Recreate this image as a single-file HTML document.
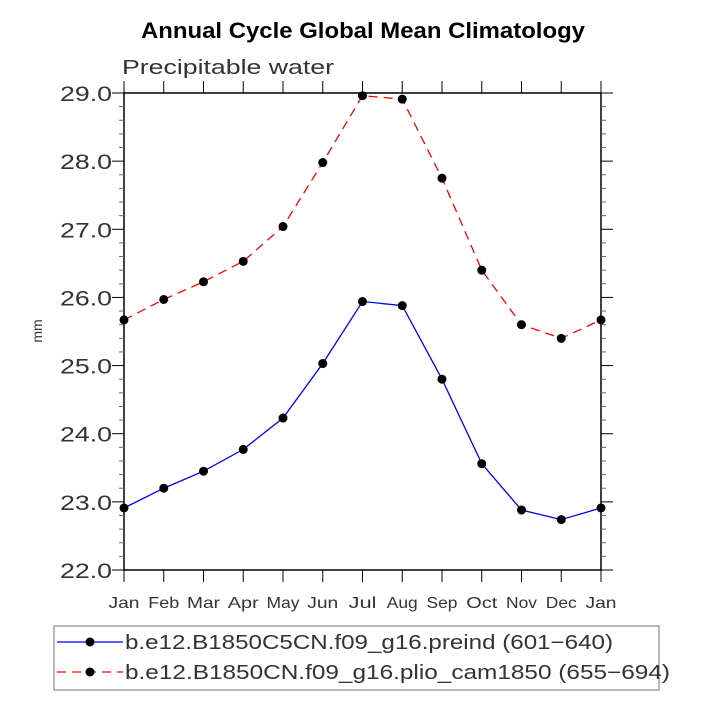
<!DOCTYPE html>
<html><head><meta charset="utf-8"><style>body{margin:0;background:#fff}svg{display:block}</style></head>
<body>
<svg width="708" height="708" viewBox="0 0 708 708" font-family="Liberation Sans, sans-serif">
<text x="363" y="38" text-anchor="middle" font-weight="bold" font-size="22" textLength="444" lengthAdjust="spacingAndGlyphs">Annual Cycle Global Mean Climatology</text>
<text x="122" y="74" font-size="20" fill="#333" textLength="212" lengthAdjust="spacingAndGlyphs">Precipitable water</text>
<text x="42" y="331" font-size="14" fill="#333" text-anchor="middle" transform="rotate(-90 42 331)">mm</text>
<g id="axes"></g>
<g id="series"></g>
<rect x="54" y="626" width="605" height="64" fill="none" stroke="#888" stroke-width="1.2"/>
<g>
<line x1="57" y1="642" x2="123" y2="642" stroke="#00f" stroke-width="1.3"/>
<circle cx="90" cy="642" r="4.5" fill="#000"/>
<text x="125" y="649" font-size="20" fill="#333" textLength="488" lengthAdjust="spacingAndGlyphs">b.e12.B1850C5CN.f09_g16.preind (601−640)</text>
</g>
<g>
<line x1="57" y1="672" x2="123" y2="672" stroke="#f00" stroke-width="1.3" stroke-dasharray="9,6"/>
<circle cx="90" cy="672" r="4.5" fill="#000"/>
<text x="125" y="679" font-size="20" fill="#333" textLength="545" lengthAdjust="spacingAndGlyphs">b.e12.B1850CN.f09_g16.plio_cam1850 (655−694)</text>
</g>
</svg>
<script>
const months=["Jan","Feb","Mar","Apr","May","Jun","Jul","Aug","Sep","Oct","Nov","Dec","Jan"];
const preind=[22.91,23.20,23.45,23.77,24.23,25.03,25.94,25.88,24.80,23.56,22.88,22.74,22.91];
const plio=[25.67,25.97,26.23,26.53,27.04,27.98,28.96,28.91,27.75,26.40,25.60,25.40,25.67];
const yTicks=[22,23,24,25,26,27,28,29];
const NS="http://www.w3.org/2000/svg";
const L=124,R=601,T=93,B=570,ymin=22,ymax=29;
const xs=i=>L+(R-L)*i/(months.length-1);
const ys=v=>B-(v-ymin)/(ymax-ymin)*(B-T);
function mk(t,a,p){const e=document.createElementNS(NS,t);for(const k in a)e.setAttribute(k,a[k]);p.appendChild(e);return e;}
const ax=document.getElementById('axes');
const fr=mk('rect',{x:L,y:T,width:R-L,height:B-T,fill:'none',stroke:'#000','stroke-width':1.5},ax);


for(let v=ymin;v<=ymax+1e-9;v+=0.2){
  const y=ys(v);const major=Math.abs(v-Math.round(v))<1e-6;const len=major?12:5;
  mk('line',{x1:L-len,y1:y,x2:L,y2:y,stroke:major?'#000':'#666','stroke-width':1},ax);
  mk('line',{x1:R,y1:y,x2:R+len,y2:y,stroke:major?'#000':'#666','stroke-width':1},ax);
}
yTicks.forEach(v=>{
  const t=mk('text',{x:L-12,y:ys(v)+8,'text-anchor':'end','font-size':21,fill:'#333',textLength:52,lengthAdjust:'spacingAndGlyphs'},ax);
  t.textContent=v.toFixed(1);
  
  
});
months.forEach((m,i)=>{
  const x=xs(i);
  mk('line',{x1:x,y1:B,x2:x,y2:B+12,stroke:'#000','stroke-width':1},ax);
  mk('line',{x1:x,y1:T-12,x2:x,y2:T,stroke:'#000','stroke-width':1},ax);
  const w=m==="May"||m==="Mar"?33:(m==="Jul"?28:31);
  const t=mk('text',{x:x,y:B+38,'text-anchor':'middle','font-size':16,fill:'#333',textLength:w,lengthAdjust:'spacingAndGlyphs'},ax);
  t.textContent=m;
  
  
});
const sg=document.getElementById('series');
function draw(vals,color,dash,name){
  const g=mk('g',{},sg);
  
  
  const pl=mk('polyline',{points:vals.map((v,i)=>xs(i)+','+ys(v)).join(' '),fill:'none',stroke:color,'stroke-width':1.3},g);
  if(dash)pl.setAttribute('stroke-dasharray',dash);
  vals.forEach((v,i)=>{
    const c=mk('circle',{cx:xs(i),cy:ys(v),r:4.5,fill:'#000'},g);
    
    
  });
}
draw(preind,'#00f',null,'series-preind');
draw(plio,'#f00','9,6','series-plio');
</script>
</body></html>
